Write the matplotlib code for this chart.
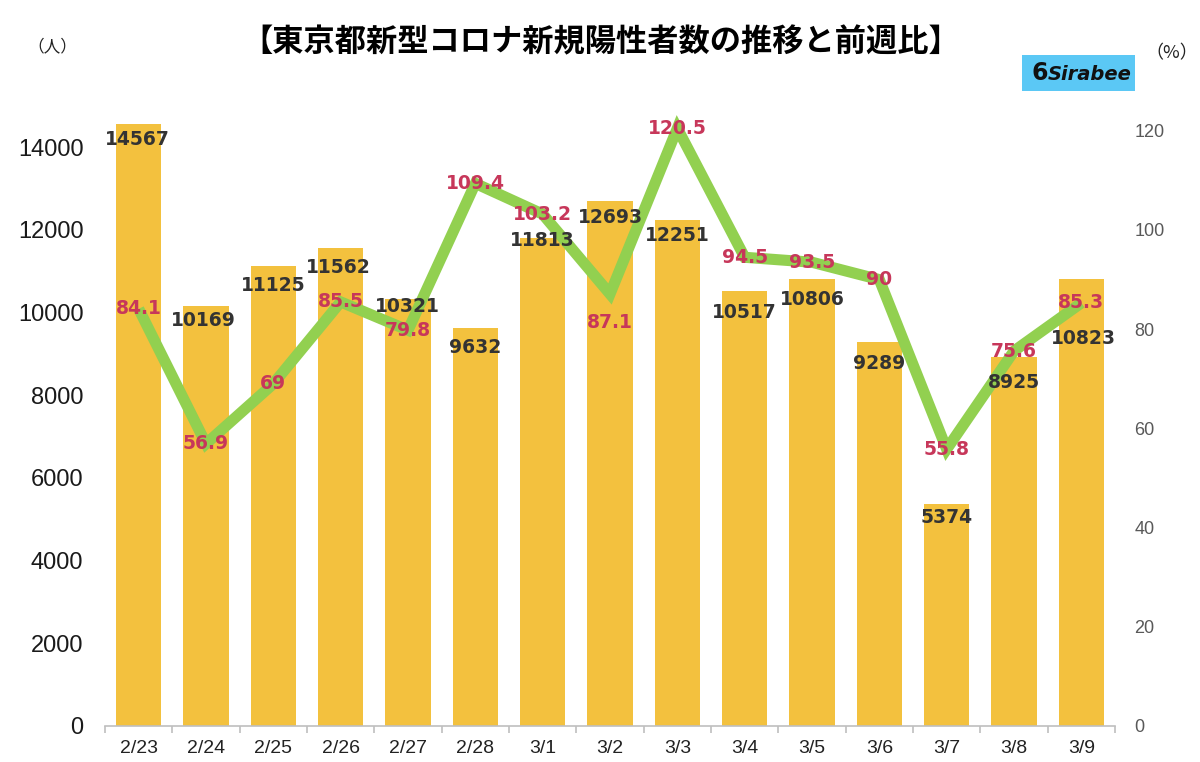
import matplotlib
matplotlib.use("Agg")
import matplotlib.pyplot as plt
import matplotlib.transforms as mtransforms
from matplotlib.patches import Rectangle
import numpy as np

# ---- data ----
dates = ["2/23", "2/24", "2/25", "2/26", "2/27", "2/28", "3/1", "3/2",
         "3/3", "3/4", "3/5", "3/6", "3/7", "3/8", "3/9"]
new_cases = [14567, 10169, 11125, 11562, 10321, 9632, 11813, 12693,
             12251, 10517, 10806, 9289, 5374, 8925, 10823]
week_ratio = [84.1, 56.9, 69, 85.5, 79.8, 109.4, 103.2, 87.1,
              120.5, 94.5, 93.5, 90, 55.8, 75.6, 85.3]
ratio_labels = ["84.1", "56.9", "69", "85.5", "79.8", "109.4", "103.2", "87.1",
                "120.5", "94.5", "93.5", "90", "55.8", "75.6", "85.3"]
left_ticks = [0, 2000, 4000, 6000, 8000, 10000, 12000, 14000]
right_ticks = [0, 20, 40, 60, 80, 100, 120]

# label nudges (pixels below the bar top / below the point)
bar_label_dy = [16, 15, 19, 19, 7, 20, 3, 16, 16, 21, 20, 21, 14, 25, 60]
bar_label_dx = [-1, -3, 0, -2, -1, 0, 0, 0, 0, 0, 0, 0, 0, 0, 2]
ratio_label_dy = [0, 0, 0, 0, 0, 0, 0, 29, 0, 0, 0, 0, 0, 0, 0]

BAR_COLOR = "#F3C13E"
LINE_COLOR = "#92D050"
NUM_COLOR = "#333333"
PCT_COLOR = "#C7375A"

W, H, DPI = 1200, 762, 100
fig = plt.figure(figsize=(W / DPI, H / DPI), dpi=DPI)
fig.patch.set_facecolor("white")

left, right, bottom, top = 105 / W, 1115 / W, (H - 726) / H, (H - 106) / H
ax1 = fig.add_axes([left, bottom, right - left, top - bottom])
ax2 = ax1.twinx()

x = np.arange(len(dates))
ax1.bar(x, new_cases, width=0.67, color=BAR_COLOR, zorder=2)
ax2.plot(x, week_ratio, color=LINE_COLOR, linewidth=8, zorder=3,
         solid_joinstyle="miter", solid_capstyle="butt")

ax1.set_xlim(-0.5, len(dates) - 0.5)
ax1.set_ylim(0, 15000)
ax2.set_ylim(0, 125)

for ax in (ax1, ax2):
    for s in ("top", "left", "right"):
        ax.spines[s].set_visible(False)
    ax.spines["bottom"].set_color("#BFBFBF")
    ax.spines["bottom"].set_linewidth(1.2)
ax2.spines["bottom"].set_visible(False)

ax1.set_xticks(x)
ax1.set_xticklabels(dates, fontsize=14, family="Liberation Sans", color="#222222")
ax1.set_xticks(np.arange(-0.5, len(dates), 1.0), minor=True)
ax1.tick_params(axis="x", which="major", length=0, pad=10)
ax1.tick_params(axis="x", which="minor", length=5, color="#BFBFBF", width=1.2)

ax1.set_yticks(left_ticks)
ax1.set_yticklabels([str(t) for t in left_ticks], fontsize=17, family="Liberation Sans",
                    color="#1A1A1A")
ax1.tick_params(axis="y", length=0, pad=15.5)

ax2.set_yticks(right_ticks)
ax2.set_yticklabels([str(t) for t in right_ticks], fontsize=13, family="Liberation Sans",
                    color="#595959")
ax2.tick_params(axis="y", length=0, pad=14)

# labels (drawn on ax2 so they sit above the line)
for i, v in enumerate(new_cases):
    tr = mtransforms.offset_copy(ax1.transData, fig=fig, x=bar_label_dx[i],
                                 y=-bar_label_dy[i], units="dots")
    ax2.text(x[i], v, str(v), transform=tr, ha="center", va="center",
             fontsize=13.5, fontweight="bold", color=NUM_COLOR,
             family="DejaVu Sans", zorder=5)

for i, v in enumerate(week_ratio):
    tr = mtransforms.offset_copy(ax2.transData, fig=fig, x=0,
                                 y=-ratio_label_dy[i], units="dots")
    ax2.text(x[i], v, ratio_labels[i], transform=tr, ha="center", va="center",
             fontsize=13.5, fontweight="bold", color=PCT_COLOR,
             family="DejaVu Sans", zorder=6)

# titles / unit labels
fig.text(601 / W, 1 - 42 / H, "【東京都新型コロナ新規陽性者数の推移と前週比】",
         ha="center", va="center", fontsize=22.5, fontweight="bold",
         family=["Noto Sans CJK JP", "DejaVu Sans"], color="#000000")
fig.text(52 / W, 1 - 47 / H, "（人）", ha="center", va="center", fontsize=12,
         family=["Noto Sans CJK JP", "DejaVu Sans"], color="#222222")
fig.text(1172 / W, 1 - 53 / H, "（%）", ha="center", va="center", fontsize=13,
         family=["Noto Sans CJK JP", "DejaVu Sans"], color="#222222")

# Sirabee logo
fig.patches.append(Rectangle((1022 / W, 1 - 91 / H), 113 / W, 36 / H,
                             transform=fig.transFigure, facecolor="#5BC8F5",
                             edgecolor="none"))
fig.text(1040 / W, 1 - 73 / H, "6", ha="center", va="center", fontsize=17,
         fontweight="heavy", color="#111111", family="DejaVu Sans")
fig.text(1090 / W, 1 - 74 / H, "Sirabee", ha="center", va="center", fontsize=14,
         fontweight="bold", style="italic", color="#111111", family="DejaVu Sans")

fig.savefig("out.png", dpi=DPI, facecolor="white")
